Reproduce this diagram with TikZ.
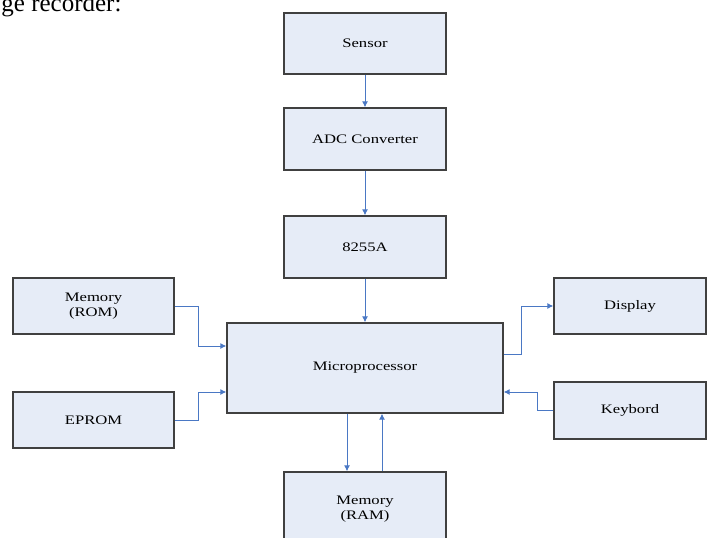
\documentclass[tikz,border=0pt]{standalone}
\usepackage{fontspec}
\setmainfont[FakeStretch=1.28]{Liberation Serif}
\newfontfamily\plainserif{Liberation Serif}
\usetikzlibrary{arrows.meta}

\definecolor{boxfill}{HTML}{E6ECF7}
\definecolor{boxline}{HTML}{404040}
\definecolor{linkblue}{HTML}{4A78C4}

\tikzset{
  block/.style={draw=boxline, line width=1.3pt, fill=boxfill,
    minimum width=162pt, minimum height=62pt, inner sep=0pt,
    align=center, font=\fontsize{13}{15}\selectfont},
  link/.style={draw=linkblue, line width=1pt,
    -{Latex[length=6pt,width=6pt]}}
}

\begin{document}
\begin{tikzpicture}[x=1pt, y=-1pt]
    \useasboundingbox (0, 0) rectangle (707, 538);
    %
    \node [anchor=base east, font=\plainserif\fontsize{25}{25}\selectfont] (caption) at (125, 11) {ge recorder:};
    %
    % main column
    \node [block, minimum height=61pt] (sensor) at (365, 43.5) {Sensor};
    \node [block] (adc) at (365, 139) {ADC Converter};
    \node [block] (ppi) at (365, 247) {8255A};
    \node [block, minimum width=276pt, minimum height=90pt] (micro) at (365, 368) {Microprocessor};
    \node [block, minimum height=74pt] (ram) at (365, 509) {Memory\\(RAM)};
    %
    % left side
    \node [block, minimum width=161pt, minimum height=56pt] (rom) at (93.5, 306) {Memory\\(ROM)};
    \node [block, minimum width=161pt, minimum height=56pt] (eprom) at (93.5, 420) {EPROM};
    %
    % right side
    \node [block, minimum width=152pt, minimum height=56pt] (display) at (630, 306) {Display};
    \node [block, minimum width=152pt, minimum height=57pt] (keybord) at (630, 410.5) {Keybord};
    %
    % connectors
    \draw [link] (sensor) -- (adc);
    \draw [link] (adc) -- (ppi);
    \draw [link] (ppi) -- (micro);
    %
    \draw [link] (rom.east) -- ++(24, 0) |- ([yshift=22pt]micro.west);
    \draw [link] (eprom.east) -- ++(24, 0) |- ([yshift=-24pt]micro.west);
    %
    \draw [link] ([yshift=14pt]micro.east) -- ++(18, 0) |- (display.west);
    \draw [link] (keybord.west) -- ++(-16, 0) |- ([yshift=-24pt]micro.east);
    %
    \draw [link] ([xshift=-18pt]micro.south) -- ([xshift=-18pt]ram.north);
    \draw [link] ([xshift=17pt]ram.north) -- ([xshift=17pt]micro.south);
\end{tikzpicture}
\end{document}
